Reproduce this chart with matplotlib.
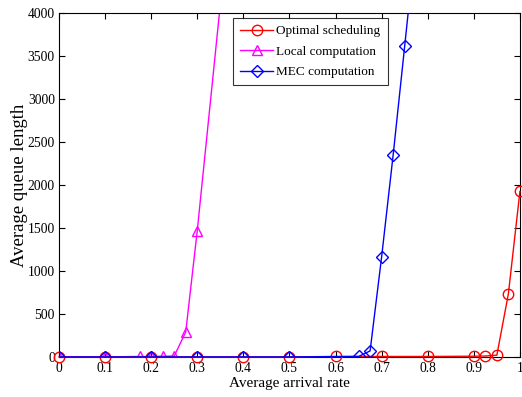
import matplotlib
matplotlib.use("Agg")
import matplotlib.pyplot as plt

plt.rcParams['font.family'] = ['Liberation Serif', 'DejaVu Serif']
plt.rcParams['mathtext.fontset'] = 'stix'

# Data
opt_x = [0, 0.1, 0.2, 0.3, 0.4, 0.5, 0.6, 0.7, 0.8, 0.9, 0.925, 0.95, 0.975, 1.0]
opt_y = [0, 0, 0, 0, 0, 0, 5, 5, 5, 8, 10, 20, 735, 1925]

loc_x = [0, 0.1, 0.175, 0.2, 0.225, 0.25, 0.275, 0.3, 0.35]
loc_y = [0, 0, 5, 5, 8, 10, 290, 1470, 4100]

mec_x = [0, 0.1, 0.2, 0.3, 0.4, 0.5, 0.65, 0.675, 0.7, 0.725, 0.75, 0.775]
mec_y = [0, 0, 0, 0, 0, 0, 5, 70, 1165, 2350, 3615, 4900]

xticks = [0, 0.1, 0.2, 0.3, 0.4, 0.5, 0.6, 0.7, 0.8, 0.9, 1]
xticklabels = ['0', '0.1', '0.2', '0.3', '0.4', '0.5', '0.6', '0.7', '0.8', '0.9', '1']
yticks = [0, 500, 1000, 1500, 2000, 2500, 3000, 3500, 4000]

fig = plt.figure(figsize=(5.22, 3.97), dpi=100)
ax = fig.add_axes([0.113, 0.101, 0.883, 0.866])

ax.plot(opt_x, opt_y, color='red', marker='o', mfc='none', ms=7.5, lw=1, label='Optimal scheduling', clip_on=False, zorder=3)
ax.plot(loc_x, loc_y, color='magenta', marker='^', mfc='none', ms=7.5, lw=1, label='Local computation', zorder=2)
ax.plot(mec_x, mec_y, color='blue', marker='D', mfc='none', ms=6.5, lw=1, label='MEC computation', zorder=4)

ax.set_xlim(0, 1)
ax.set_ylim(0, 4000)
ax.set_xticks(xticks)
ax.set_xticklabels(xticklabels)
ax.set_yticks(yticks)
ax.tick_params(direction='in', length=4, width=0.8, top=True, right=True, labelsize=9.8)
ax.tick_params(axis='x', pad=4)
ax.tick_params(axis='y', pad=3)
for s in ax.spines.values():
    s.set_linewidth(0.8)

ax.set_xlabel('Average arrival rate', fontsize=11, labelpad=1)
ax.set_ylabel('Average queue length', fontsize=13.5, labelpad=0)

leg = ax.legend(loc='upper left', bbox_to_anchor=(0.377, 0.986), fontsize=9.5, frameon=True,
                fancybox=False, edgecolor='black', borderpad=0.55, labelspacing=0.62,
                handlelength=2.5, handletextpad=0.25, borderaxespad=0)
leg.get_frame().set_linewidth(0.8)

fig.savefig('out.png', dpi=100)
